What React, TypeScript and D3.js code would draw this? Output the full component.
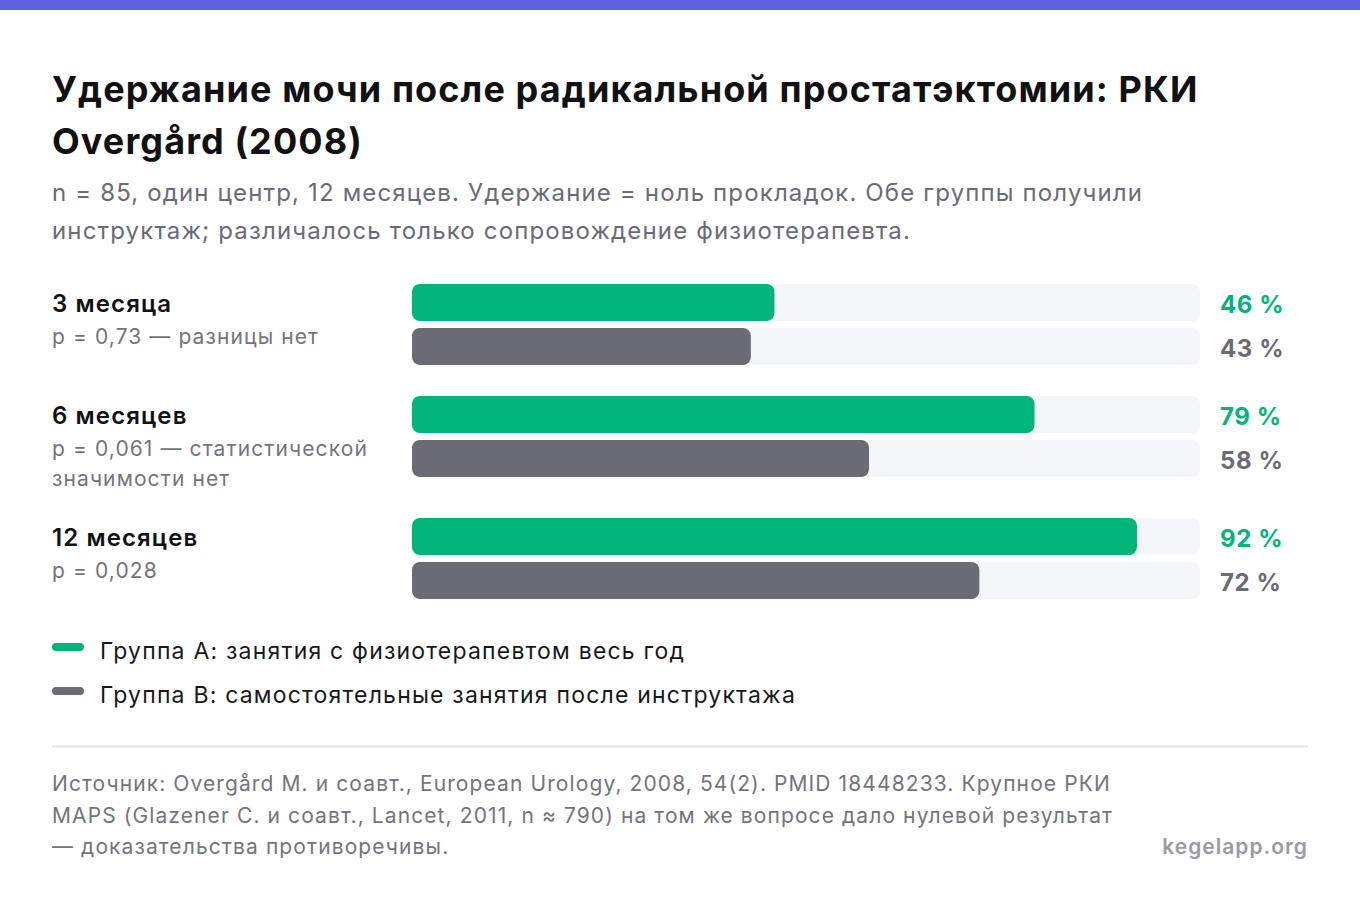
import React from "react";
import * as d3 from "d3";

const periods = ["3 месяца", "6 месяцев", "12 месяцев"];
const pNotes = [
  ["p = 0,73 — разницы нет"],
  ["p = 0,061 — статистической", "значимости нет"],
  ["p = 0,028"],
];
const groupA = [46, 79, 92];
const groupB = [43, 58, 72];
const seriesNames = [
  "Группа A: занятия с физиотерапевтом весь год",
  "Группа B: самостоятельные занятия после инструктажа",
];
const titleLines = [
  "Удержание мочи после радикальной простатэктомии: РКИ",
  "Overgård (2008)",
];
const subtitleLines = [
  "n = 85, один центр, 12 месяцев. Удержание = ноль прокладок. Обе группы получили",
  "инструктаж; различалось только сопровождение физиотерапевта.",
];
const footerLines = [
  "Источник: Overgård M. и соавт., European Urology, 2008, 54(2). PMID 18448233. Крупное РКИ",
  "MAPS (Glazener C. и соавт., Lancet, 2011, n ≈ 790) на том же вопросе дало нулевой результат",
  "— доказательства противоречивы.",
];
const brand = "kegelapp.org";

const W = 1360;
const H = 916;
const FONT = "Inter, 'Noto Sans', sans-serif";
const GREEN = "#00b57a";
const GREY = "#6b6b75";
const TRACK = "#f5f6fa";

export default function App() {
  const x = d3.scaleLinear().domain([0, 100]).range([412, 1200]);
  const barH = 37;
  const barGap = 7;
  const groupGap = 31;

  const tops: number[] = [];
  let cur = 284;
  periods.forEach((_, i) => {
    tops.push(cur);
    const lastBaseline = 28 + 32 + 30 * (pNotes[i].length - 1);
    const blockH = Math.max(barH * 2 + barGap, lastBaseline + 1);
    cur += blockH + groupGap;
  });

  return (
    <svg
      width={W}
      height={H}
      style={{ position: "absolute", left: 0, top: 0, display: "block", background: "#fff" }}
      fontFamily={FONT}
    >
      <rect x={0} y={0} width={W} height={10} fill="#5c63e3" />
      {titleLines.map((t, i) => (
        <text key={t} x={52} y={102 + i * 52} fontSize={36} fontWeight={700} fill="#111114" letterSpacing={1.1}>
          {t}
        </text>
      ))}
      {subtitleLines.map((t, i) => (
        <text key={t} x={52} y={201 + i * 38} fontSize={24} fill="#6b6b75" letterSpacing={1.15}>
          {t}
        </text>
      ))}
      {periods.map((p, i) => {
        const top = tops[i];
        const vals = [groupA[i], groupB[i]];
        return (
          <g key={p}>
            <text x={52} y={top + 28} fontSize={24} fontWeight={600} fill="#111114" letterSpacing={1.1}>
              {p}
            </text>
            {pNotes[i].map((n, j) => (
              <text key={n} x={52} y={top + 60 + j * 30} fontSize={21} fill="#74747c" letterSpacing={1.1}>
                {n}
              </text>
            ))}
            {vals.map((v, k) => {
              const y = top + k * (barH + barGap);
              const col = k === 0 ? GREEN : GREY;
              return (
                <g key={k}>
                  <rect x={x(0)} y={y} width={x(100) - x(0)} height={barH} rx={8} fill={TRACK} />
                  <rect x={x(0)} y={y} width={x(v) - x(0)} height={barH} rx={8} fill={col} />
                  <text x={1220} y={y + barH / 2 + 10} fontSize={24} fontWeight={700} fill={col} letterSpacing={0.6}>
                    {v} %
                  </text>
                </g>
              );
            })}
          </g>
        );
      })}
      {seriesNames.map((s, i) => (
        <g key={s}>
          <rect x={52} y={643 + i * 44} width={32} height={8} rx={4} fill={i === 0 ? GREEN : GREY} />
          <text x={100} y={659 + i * 43.5} fontSize={23} fill="#18181b" letterSpacing={1.2}>
            {s}
          </text>
        </g>
      ))}
      <line x1={52} x2={1308} y1={746.5} y2={746.5} stroke="#e6e6ea" strokeWidth={2} />
      {footerLines.map((t, i) => (
        <text key={t} x={52} y={791 + i * 31.5} fontSize={21} fill="#74747c" letterSpacing={1.1}>
          {t}
        </text>
      ))}
      <text x={1308} y={854} fontSize={21} fontWeight={600} fill="#9b9ba3" textAnchor="end" letterSpacing={1}>
        {brand}
      </text>
    </svg>
  );
}
